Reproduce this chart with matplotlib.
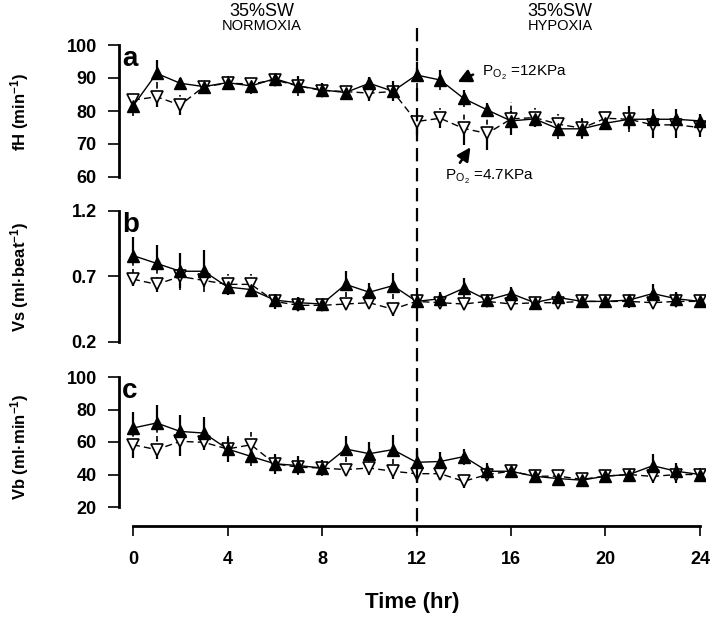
import matplotlib
matplotlib.use("Agg")
import matplotlib.pyplot as plt
import numpy as np
from matplotlib.transforms import blended_transform_factory
from matplotlib.lines import Line2D

plt.rcParams['font.family'] = ['Liberation Sans', 'DejaVu Sans']
plt.rcParams['mathtext.default'] = 'regular'

time_hr = list(range(25))
x_ticks = [0, 4, 8, 12, 16, 20, 24]

# Panel a: fH (min-1)
fh_high = [81.5, 91.4, 88.4, 87.4, 88.6, 87.6, 89.8, 87.6, 86.4, 85.6, 88.4, 86.0,
           90.9, 89.4, 83.8, 80.3, 77.0, 77.6, 74.6, 74.6, 76.3, 77.5, 77.5, 77.5, 77.0]
fh_high_err = [3, 4, 1.5, 1, 2, 2.5, 1.5, 3, 2, 2, 2, 3,
               4, 3, 2.5, 2, 3, 2, 3, 3, 2, 4, 3, 3, 2]
fh_low = [83.3, 84.3, 81.8, 87.4, 88.4, 88.2, 89.4, 87.6, 86.2, 85.9, 85.4, 85.9,
          76.8, 77.8, 74.7, 73.2, 77.6, 78.0, 76.0, 74.8, 77.8, 77.5, 75.8, 75.8, 75.0]
fh_low_err = [2, 3, 3, 1, 1, 2, 1.5, 2, 1.5, 2, 2.5, 3,
              4, 3, 5, 5, 5, 3, 3, 3, 2, 3, 4, 4, 3]

# Panel b: Vs (ml beat-1)
vs_high = [0.86, 0.80, 0.74, 0.74, 0.62, 0.60, 0.52, 0.50, 0.49, 0.64, 0.58, 0.63,
           0.51, 0.53, 0.61, 0.52, 0.57, 0.50, 0.54, 0.51, 0.51, 0.52, 0.57, 0.53, 0.51]
vs_high_err = [0.14, 0.14, 0.14, 0.16, 0.06, 0.05, 0.05, 0.04, 0.04, 0.1, 0.07, 0.1,
               0.04, 0.05, 0.08, 0.04, 0.05, 0.03, 0.04, 0.04, 0.03, 0.04, 0.07, 0.05, 0.03]
vs_low = [0.68, 0.64, 0.70, 0.67, 0.64, 0.64, 0.51, 0.48, 0.48, 0.49, 0.50, 0.45,
          0.51, 0.50, 0.49, 0.51, 0.49, 0.50, 0.50, 0.51, 0.51, 0.51, 0.50, 0.51, 0.51]
vs_low_err = [0.05, 0.06, 0.09, 0.05, 0.08, 0.08, 0.06, 0.04, 0.04, 0.03, 0.04, 0.05,
              0.04, 0.03, 0.03, 0.04, 0.03, 0.02, 0.03, 0.05, 0.04, 0.05, 0.03, 0.04, 0.04]

# Panel c: Vb (ml min-1)
vb_high = [68.6, 71.7, 66.5, 65.5, 55.7, 51.1, 46.6, 45.5, 44.0, 55.7, 52.8, 55.3,
           47.5, 48.0, 51.0, 42.0, 42.0, 38.9, 37.5, 36.5, 39.0, 40.0, 45.4, 42.0, 40.0]
vb_high_err = [10, 11, 10, 10, 7, 6, 6, 6, 5, 8, 7, 9,
               7, 6, 5, 5, 4, 3, 3, 3, 4, 3, 7, 5, 4]
vb_low = [58.3, 55.3, 60.4, 59.8, 55.7, 58.3, 46.6, 44.5, 44.0, 43.0, 44.0, 42.0,
          40.5, 40.5, 35.8, 40.0, 42.0, 38.9, 39.0, 37.0, 39.0, 40.0, 38.8, 40.0, 40.0]
vb_low_err = [8, 6, 9, 5, 8, 8, 6, 4, 3, 4, 4, 5,
              6, 4, 4, 4, 3, 3, 4, 3, 4, 4, 4, 5, 4]

W, H = 712, 622
fig = plt.figure(figsize=(W / 100, H / 100), dpi=100)

def px_axes(top, bottom, left=119, right=705):
    return [left / W, 1 - bottom / H, (right - left) / W, (bottom - top) / H]

ax_a = fig.add_axes(px_axes(45, 177))
ax_b = fig.add_axes(px_axes(211, 342))
ax_c = fig.add_axes(px_axes(377, 507))

xlim = (-14 / 23.6, 24 + 5 / 23.6)
tick_font = dict(fontsize=13, fontweight='bold')

def draw_panel(ax, hi, hi_err, lo, lo_err, ylim, yticks, yticklabels, letter):
    t = np.array(time_hr, dtype=float)
    hi = np.array(hi); hi_err = np.array(hi_err)
    lo = np.array(lo); lo_err = np.array(lo_err)
    # error bars: filled group up solid / down dashed; open group up dashed / down solid
    ax.vlines(t, hi, hi + hi_err, colors='black', lw=1.6, zorder=2)
    ax.vlines(t, hi - hi_err, hi, colors='black', lw=1.2, linestyles=(0, (3, 2)), zorder=2)
    ax.vlines(t, lo - lo_err, lo, colors='black', lw=1.6, zorder=2)
    ax.vlines(t, lo, lo + lo_err, colors='black', lw=1.2, linestyles=(0, (3, 2)), zorder=2)
    ax.plot(t, hi, color='black', lw=1.0, zorder=3)
    ax.plot(t, lo, color='black', lw=1.0, ls=(0, (5, 3)), zorder=3)
    ax.plot(t, hi, ls='none', marker='^', ms=9, mfc='black', mec='black', mew=1, zorder=5)
    ax.plot(t, lo, ls='none', marker='v', ms=9, mfc='white', mec='black', mew=1.2, zorder=4)
    ax.set_xlim(*xlim)
    ax.set_ylim(*ylim)
    ax.set_yticks(yticks)
    ax.set_yticklabels(yticklabels, **tick_font)
    for s in ['top', 'right']:
        ax.spines[s].set_visible(False)
    ax.spines['left'].set_bounds(ylim[0], ylim[1])
    ax.spines['left'].set_linewidth(2)
    ax.tick_params(axis='y', direction='out', length=8, width=1.2, pad=8)
    ax.patch.set_alpha(0)
    ax.text(0.005, 0.99, letter, transform=ax.transAxes, fontsize=20, fontweight='bold',
            ha='left', va='top')

draw_panel(ax_a, fh_high, fh_high_err, fh_low, fh_low_err, (60, 100),
           [60, 70, 80, 90, 100], ['60', '70', '80', '90', '100'], 'a')
draw_panel(ax_b, vs_high, vs_high_err, vs_low, vs_low_err, (0.2, 1.2),
           [0.2, 0.7, 1.2], ['0.2', '0.7', '1.2'], 'b')
draw_panel(ax_c, vb_high, vb_high_err, vb_low, vb_low_err, (20, 100),
           [20, 40, 60, 80, 100], ['20', '40', '60', '80', '100'], 'c')

for ax in (ax_a, ax_b):
    ax.spines['bottom'].set_visible(False)
    ax.set_xticks([])

ax_c.spines['bottom'].set_position(('outward', 14))
ax_c.spines['bottom'].set_bounds(0, 24)
ax_c.spines['bottom'].set_linewidth(2)
ax_c.set_xticks(x_ticks)
ax_c.set_xticklabels([str(v) for v in x_ticks], **tick_font)
ax_c.tick_params(axis='x', direction='out', length=7, width=1.2, pad=11)
ax_c.set_xlabel('Time (hr)', fontsize=16, fontweight='bold', labelpad=17)

# vertical dashed line at t=12 across panels
trans = blended_transform_factory(ax_c.transData, fig.transFigure)
fig.add_artist(Line2D([12, 12], [1 - 28 / H, 1 - 532 / H], transform=trans,
                      color='black', lw=1.6, ls=(0, (6, 3))))

# headers
fig.text(262 / W, 1 - 11 / H, '35%SW', ha='center', va='center', fontsize=13)
fig.text(262 / W, 1 - 26 / H, 'NORMOXIA', ha='center', va='center', fontsize=10.5)
fig.text(560 / W, 1 - 11 / H, '35%SW', ha='center', va='center', fontsize=13)
fig.text(560 / W, 1 - 26 / H, 'HYPOXIA', ha='center', va='center', fontsize=10.5)

# y labels
fig.text(20 / W, 1 - 112 / H, 'fH (min$^{-1}$)', rotation=90, ha='center', va='center',
         fontsize=12, fontweight='bold')
fig.text(20 / W, 1 - 277 / H, 'Vs (ml·beat$^{-1}$)', rotation=90, ha='center', va='center',
         fontsize=12, fontweight='bold')
fig.text(20 / W, 1 - 447 / H, 'Vb (ml·min$^{-1}$)', rotation=90, ha='center', va='center',
         fontsize=12, fontweight='bold')

# annotations in panel a
arrow = dict(arrowstyle='-|>', color='black', lw=1.8, mutation_scale=20)
ax_a.annotate('', xy=(13.64, 88.4), xytext=(14.5, 91.4), arrowprops=arrow)
ax_a.text(14.78, 91.4, 'P$_{O}$$_{_2}$ =12KPa', ha='left', va='center', fontsize=11)
ax_a.annotate('', xy=(14.35, 69.7), xytext=(13.77, 63.6), arrowprops=arrow,
              annotation_clip=False)
ax_a.text(13.2, 60.1, 'P$_{O}$$_{_2}$ =4.7KPa', ha='left', va='center', fontsize=11,
          clip_on=False)

fig.savefig('out.png', dpi=100)
